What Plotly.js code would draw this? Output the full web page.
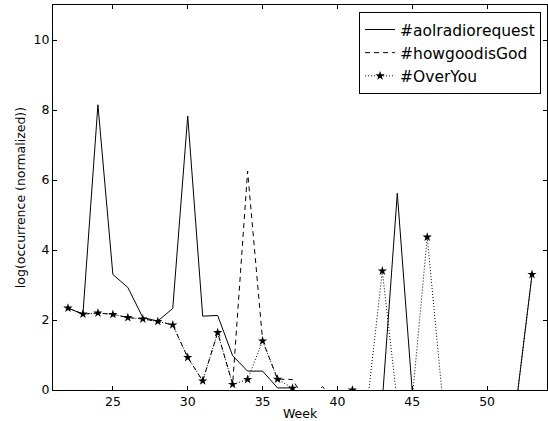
<!DOCTYPE html>
<html>
<head>
<meta charset="utf-8">
<script src="https://cdn.plot.ly/plotly-3.0.1.min.js"></script>
<style>html,body{margin:0;padding:0;background:#fff;}#chart{width:548px;height:421px;}</style>
</head>
<body>
<div id="chart"></div>
<script>
// Weeks (x categories)
const weeks = [22,23,24,25,26,27,28,29,30,31,32,33,34,35,36,37,38,39,40,41,42,43,44,45,46,47,48,49,50,51,52,53];
// log(occurrence (normalized)) per hashtag; negative values fall below the visible axis
const aolradiorequest = [2.34,2.17,8.15,3.30,2.93,2.07,1.97,2.33,7.83,2.11,2.13,0.98,0.54,0.54,0.06,0.06,-1,-1,-1,-1,-1,-0.30,5.62,-0.05,-1,-1,-1,-1,-1,-1,-0.20,3.30];
const howgoodisGod   = [2.34,2.17,2.20,2.16,2.07,2.03,1.96,1.86,0.93,0.26,1.64,0.16,6.25,1.42,0.31,0.30,-0.40,0.10,-0.40,-1,-1,-1,-1,-1,-1,-1,-1,-1,-1,-1,-1,-1];
const OverYou        = [2.34,2.17,2.20,2.16,2.07,2.03,1.96,1.86,0.93,0.26,1.64,0.16,0.30,1.40,0.31,0.05,-1,-1,-1,0,-0.38,3.40,-0.38,-0.25,4.37,-0.15,-1,-1,-1,-1,-0.20,3.30];
const seriesNames = ['#aolradiorequest','#howgoodisGod','#OverYou'];
const xTicks = [25,30,35,40,45,50];
const yTicks = [0,2,4,6,8,10];

const font = 'DejaVu Sans, sans-serif';
const traces = [
  {x: weeks, y: aolradiorequest, name: seriesNames[0], mode: 'lines',
   line: {color: '#000', width: 1}},
  {x: weeks, y: howgoodisGod, name: seriesNames[1], mode: 'lines',
   line: {color: '#000', width: 1, dash: '5px,4px'}},
  {x: weeks, y: OverYou, name: seriesNames[2], mode: 'lines+markers',
   line: {color: '#000', width: 1, dash: '1px,2px'},
   marker: {symbol: 'star', size: 7, color: '#000', line: {width: 0}}}
];

const axisCommon = {
  showgrid: false, zeroline: false, showline: true, mirror: 'ticks',
  linecolor: '#000', linewidth: 1, ticks: 'inside', ticklen: 4, tickwidth: 1,
  tickcolor: '#000', tickfont: {family: font, size: 12.5, color: '#000'}
};

const layout = {
  width: 548, height: 421,
  margin: {l: 53, r: 1, t: 5, b: 31, pad: 0},
  paper_bgcolor: '#fff', plot_bgcolor: '#fff',
  font: {family: font, color: '#000'},
  showlegend: true,
  legend: {x: 0.988, y: 0.982, xanchor: 'right', yanchor: 'top',
    bgcolor: '#fff', bordercolor: '#000', borderwidth: 1,
    font: {family: font, size: 15.5, color: '#000'}},
  xaxis: Object.assign({}, axisCommon, {
    range: [21, 54], tickvals: xTicks, ticktext: xTicks.map(String),
    title: {text: 'Week', font: {family: font, size: 12.5, color: '#000'}, standoff: 3}
  }),
  yaxis: Object.assign({}, axisCommon, {
    range: [0, 11], tickvals: yTicks, ticktext: yTicks.map(String),
    title: {text: 'log(occurrence (normalized))', font: {family: font, size: 12.5, color: '#000'}, standoff: 5}
  })
};

Plotly.newPlot('chart', traces, layout, {displayModeBar: false, staticPlot: true});
</script>
</body>
</html>
